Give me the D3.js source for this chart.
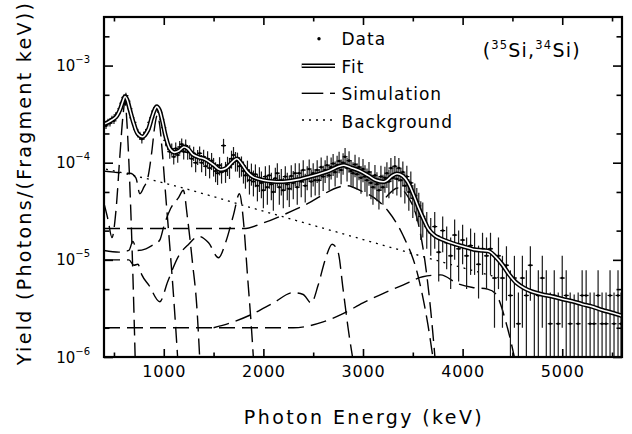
<!DOCTYPE html>
<html>
<head>
<meta charset="utf-8">
<script src="https://cdn.jsdelivr.net/npm/d3@7"></script>
<style>
  body { margin: 0; background: #fff; }
  text { font-family: "DejaVu Sans", sans-serif; fill: #000; }
</style>
</head>
<body>
<svg id="chart" width="632" height="434"></svg>
<script>
// tick values
const xTicksMajor = [1000, 2000, 3000, 4000, 5000];
const xTicksMinor = [500, 1500, 2500, 3500, 4500, 5500];
const yDecades = [1e-6, 1e-5, 1e-4, 1e-3];
const yMinor = [2e-6, 5e-6, 2e-5, 5e-5, 2e-4, 5e-4, 2e-3];
const yExp = ["-6", "-5", "-4", "-3"];

// measured spectrum: bin centre (keV), yield, error
const dataE = [420,440,460,480,500,520,540,560,580,600,620,640,660,680,700,720,740,760,780,800,
  820,840,860,880,900,920,940,960,980,1000,1020,1040,1060,1080,1100,1120,1140,1160,1180,1200,
  1220,1240,1260,1280,1300,1320,1340,1360,1380,1400,1420,1440,1460,1480,1500,1520,1540,1560,1580,1600,
  1620,1640,1660,1680,1700,1720,1740,1760,1780,1800,1820,1840,1860,1880,1900,1920,1940,1960,1980,2000,
  2020,2040,2060,2080,2100,2120,2140,2160,2180,2200,2220,2240,2260,2280,2300,2320,2340,2360,2380,2400,
  2420,2440,2460,2480,2500,2520,2540,2560,2580,2600,2620,2640,2660,2680,2700,2720,2740,2760,2780,2800,
  2820,2840,2860,2880,2900,2920,2940,2960,2980,3000,3020,3040,3060,3080,3100,3120,3140,3160,3180,3200,
  3220,3240,3260,3280,3300,3320,3340,3360,3380,3400,3420,3440,3460,3480,3500,3520,3540,3560,3580,3600,
  3640,3680,3720,3760,3800,3840,3880,3920,3960,4000,4040,4080,4120,4160,4200,4240,4280,4320,4360,4400,
  4440,4480,4520,4560,4600,4640,4680,4720,4760,4800,4840,4880,4920,4960,5000,5040,5080,5120,5160,5200,
  5240,5280,5320,5360,5400,5440,5480,5520,5560,5590];
const dataY = [2.4e-4,2.65e-4,2.55e-4,2.85e-4,2.7e-4,3.1e-4,3.2e-4,3.6e-4,4.1e-4,4.7e-4,4.9e-4,4.3e-4,3.6e-4,2.9e-4,2.6e-4,2.2e-4,2.0e-4,1.9e-4,1.75e-4,1.9e-4,
  2.05e-4,2.2e-4,2.6e-4,2.9e-4,3.4e-4,3.7e-4,3.6e-4,3.3e-4,2.8e-4,2.3e-4,1.7e-4,1.55e-4,1.3e-4,1.38e-4,1.15e-4,1.4e-4,1.2e-4,1.45e-4,1.55e-4,1.3e-4,
  1.5e-4,1.28e-4,1.3e-4,1.1e-4,1.25e-4,1.0e-4,1.15e-4,1.25e-4,1.0e-4,1.15e-4,9.2e-5,1.1e-4,8.8e-5,1.05e-4,9.2e-5,8.2e-5,7.8e-5,9.4e-5,8.0e-5,1.5e-4,
  8.2e-5,9.4e-5,9.0e-5,1.1e-4,1.2e-4,1.05e-4,1.04e-4,9.2e-5,9.4e-5,8.2e-5,7.4e-5,8.4e-5,6.6e-5,7.8e-5,6.4e-5,7.6e-5,5.8e-5,7.0e-5,6.2e-5,5.2e-5,
  7.2e-5,5.6e-5,7.4e-5,6.0e-5,5.0e-5,6.9e-5,7.8e-5,5.6e-5,6.6e-5,5.2e-5,7.2e-5,6.0e-5,5.4e-5,7.3e-5,6.2e-5,7.8e-5,5.6e-5,7.8e-5,6.4e-5,8.4e-5,
  5.8e-5,7.2e-5,8.6e-5,6.4e-5,7.8e-5,6.6e-5,8.4e-5,6.6e-5,9.0e-5,7.2e-5,8.4e-5,9.4e-5,7.4e-5,9.0e-5,9.8e-5,8.0e-5,9.4e-5,1.04e-4,8.4e-5,1.0e-4,
  1.15e-4,8.8e-5,1.05e-4,8.2e-5,7.8e-5,9.6e-5,7.6e-5,9.0e-5,7.0e-5,8.6e-5,7.2e-5,6.6e-5,8.0e-5,6.2e-5,5.6e-5,7.4e-5,6.0e-5,5.2e-5,7.2e-5,5.6e-5,
  7.0e-5,7.8e-5,6.4e-5,8.8e-5,7.0e-5,9.2e-5,6.8e-5,8.8e-5,6.6e-5,8.0e-5,5.8e-5,7.2e-5,5.0e-5,6.2e-5,4.3e-5,4.6e-5,4.0e-5,3.6e-5,2.8e-5,2.8e-5,
  2.2e-5,1.9e-5,2.2e-5,1.2e-5,2.0e-5,1.5e-5,1.1e-5,1.8e-5,1.3e-5,1.6e-5,1.1e-5,1.4e-5,1.3e-5,9e-6,1.3e-5,1.1e-5,1.3e-5,6.5e-6,1.1e-5,6.5e-6,
  8.8e-6,4.3e-6,6.5e-6,2.2e-6,6.5e-6,4.3e-6,8.8e-6,0,4.3e-6,6.5e-6,4.3e-6,2.2e-6,4.3e-6,2.2e-6,6.5e-6,4.3e-6,2.2e-6,0,2.2e-6,4.3e-6,
  4.3e-6,2.2e-6,2.2e-6,4.3e-6,2.2e-6,2.2e-6,4.3e-6,2.2e-6,4.3e-6,2.2e-6];
const dataErr = [1.8e-5,1.9e-5,1.9e-5,2.0e-5,2.0e-5,2.2e-5,2.3e-5,2.6e-5,3.0e-5,3.3e-5,3.4e-5,3.1e-5,2.7e-5,2.3e-5,2.1e-5,1.9e-5,1.8e-5,1.8e-5,1.7e-5,1.8e-5,
  1.8e-5,1.9e-5,2.1e-5,2.2e-5,2.4e-5,2.5e-5,2.5e-5,2.4e-5,2.2e-5,2.4e-5,2.2e-5,2.1e-5,2.0e-5,2.0e-5,1.9e-5,2.1e-5,2.0e-5,2.2e-5,2.3e-5,2.2e-5,
  2.3e-5,2.1e-5,2.1e-5,2.0e-5,2.1e-5,2.0e-5,2.0e-5,2.2e-5,2.0e-5,2.1e-5,1.9e-5,2.1e-5,1.9e-5,2.1e-5,2.0e-5,1.9e-5,1.9e-5,2.0e-5,1.9e-5,2.6e-5,
  2.0e-5,2.1e-5,2.2e-5,2.3e-5,2.5e-5,2.4e-5,2.3e-5,2.2e-5,2.2e-5,2.1e-5,2.0e-5,2.1e-5,1.9e-5,2.0e-5,1.9e-5,2.0e-5,1.8e-5,2.0e-5,1.9e-5,1.8e-5,
  2.0e-5,1.9e-5,2.0e-5,1.9e-5,1.8e-5,2.0e-5,2.1e-5,1.9e-5,2.0e-5,1.8e-5,2.0e-5,1.9e-5,1.9e-5,2.1e-5,2.0e-5,2.1e-5,1.9e-5,2.1e-5,2.0e-5,2.2e-5,
  1.9e-5,2.0e-5,2.2e-5,2.0e-5,2.1e-5,2.0e-5,2.2e-5,2.0e-5,2.3e-5,2.1e-5,2.2e-5,2.4e-5,2.2e-5,2.3e-5,2.5e-5,2.3e-5,2.4e-5,2.6e-5,2.4e-5,2.5e-5,
  2.7e-5,2.4e-5,2.6e-5,2.4e-5,2.3e-5,2.5e-5,2.3e-5,2.4e-5,2.2e-5,2.3e-5,2.2e-5,2.1e-5,2.2e-5,2.0e-5,1.9e-5,2.1e-5,2.0e-5,1.9e-5,2.1e-5,1.9e-5,
  2.1e-5,2.3e-5,2.1e-5,2.4e-5,2.2e-5,2.5e-5,2.2e-5,2.4e-5,2.2e-5,2.3e-5,2.0e-5,2.1e-5,1.8e-5,1.9e-5,1.6e-5,1.5e-5,1.5e-5,1.3e-5,1.2e-5,1.1e-5,
  9e-6,8e-6,9e-6,6e-6,8e-6,7e-6,6e-6,8e-6,7e-6,7e-6,6e-6,7e-6,6e-6,5e-6,6e-6,6e-6,6e-6,4.5e-6,6e-6,4.5e-6,
  5e-6,3.5e-6,4.5e-6,2.4e-6,4.5e-6,3.5e-6,5e-6,4.4e-6,3.5e-6,4.5e-6,3.5e-6,2.4e-6,3.5e-6,2.4e-6,4.5e-6,3.5e-6,2.4e-6,4.4e-6,2.4e-6,3.5e-6,
  3.5e-6,2.4e-6,2.4e-6,3.5e-6,2.4e-6,2.4e-6,3.5e-6,2.4e-6,3.5e-6,2.4e-6];

// total fit
const fitCurve = [[400,2.5e-4],[440,2.6e-4],[480,2.75e-4],[520,2.95e-4],[560,3.5e-4],[590,4.3e-4],[611,4.8e-4],[630,4.5e-4],
  [660,3.5e-4],[700,2.5e-4],[740,1.98e-4],[790,1.85e-4],[840,2.15e-4],[880,2.9e-4],[910,3.55e-4],[930,3.78e-4],[955,3.5e-4],
  [985,2.7e-4],[1020,1.85e-4],[1060,1.4e-4],[1100,1.28e-4],[1150,1.32e-4],[1200,1.45e-4],[1240,1.4e-4],[1290,1.22e-4],
  [1350,1.14e-4],[1420,1.08e-4],[1500,9.5e-5],[1560,8.5e-5],[1620,8.7e-5],[1690,1.02e-4],[1735,1.1e-4],[1780,9.8e-5],
  [1840,8e-5],[1900,7.1e-5],[2000,6.6e-5],[2100,6.4e-5],[2225,6.4e-5],[2350,6.7e-5],[2470,7.2e-5],[2640,8.1e-5],
  [2760,9.2e-5],[2810,9.4e-5],[2880,8.9e-5],[2960,8.3e-5],[3050,7.4e-5],[3130,6.6e-5],[3220,6.4e-5],[3290,7.3e-5],
  [3340,7.7e-5],[3400,7.3e-5],[3450,6.3e-5],[3510,4.6e-5],[3560,3.4e-5],[3610,2.6e-5],[3660,2.05e-5],[3720,1.78e-5],
  [3790,1.63e-5],[3900,1.48e-5],[4000,1.38e-5],[4110,1.28e-5],[4200,1.25e-5],[4270,1.22e-5],[4330,1.08e-5],[4400,8.9e-6],
  [4470,7e-6],[4540,5.8e-6],[4620,5.1e-6],[4700,4.7e-6],[4800,4.4e-6],[4900,4.2e-6],[5000,3.95e-6],[5100,3.75e-6],
  [5200,3.5e-6],[5300,3.3e-6],[5400,3.05e-6],[5500,2.85e-6],[5600,2.65e-6]];

// background
const background = [[420,8.6e-5],[1000,6.2e-5],[2000,3.17e-5],[3000,1.62e-5],[4000,8.3e-6],[4400,6.4e-6]];

// simulated line responses
const sim611 = [[400,3.8e-5],[440,2.6e-5],[480,1.7e-5],[520,3.2e-5],[560,1.2e-4],[590,3.0e-4],[611,4.3e-4],[630,2.6e-4],
  [650,1.0e-4],[670,3.0e-5],[690,7e-6],[715,8e-7]];
const sim930 = [[400,8.2e-5],[500,8e-5],[600,7.8e-5],[660,7.8e-5],[720,7e-5],[760,4.8e-5],[800,5.6e-5],[840,7e-5],
  [880,1.3e-4],[910,2.4e-4],[935,3.1e-4],[960,2.4e-4],[985,1.3e-4],[1020,4.5e-5],[1060,1.4e-5],[1100,4e-6],[1145,8e-7]];
const sim1200 = [[400,1.25e-5],[550,1.2e-5],[650,1.25e-5],[690,1.55e-5],[730,1.25e-5],[820,1.3e-5],[880,1.4e-5],[960,1.6e-5],
  [1000,2.2e-5],[1070,3.4e-5],[1150,4.4e-5],[1196,5.2e-5],[1240,2.6e-5],[1290,9e-6],[1330,3.5e-6],[1365,8e-7]];
const sim1760 = [[400,1.0e-5],[550,1.0e-5],[650,1.0e-5],[700,8.8e-6],[740,9e-6],[780,7e-6],[850,5.5e-6],[960,3.7e-6],
  [1040,6e-6],[1150,1.1e-5],[1250,1.45e-5],[1350,1.75e-5],[1450,1.5e-5],[1550,1.05e-5],[1620,1.5e-5],[1700,2.9e-5],
  [1760,4.8e-5],[1800,2.5e-5],[1840,7e-6],[1880,2e-6],[1905,8e-7]];
const sim2700 = [[1500,2e-6],[1700,2.3e-6],[1900,2.8e-6],[2100,3.6e-6],[2300,4.6e-6],[2400,4.4e-6],[2480,3.6e-6],
  [2550,5.5e-6],[2620,1e-5],[2690,1.45e-5],[2750,1.2e-5],[2800,5e-6],[2850,2e-6],[2910,8e-7]];
const sim3000 = [[400,2.1e-5],[1000,2.1e-5],[1800,2.1e-5],[2000,2.4e-5],[2400,3.6e-5],[2840,5.8e-5],[3000,5e-5],[3120,4.3e-5],
  [3250,3.2e-5],[3400,1.8e-5],[3550,7e-6],[3650,2.2e-6],[3715,8e-7]];
const sim3350 = [[3230,4.4e-5],[3350,5.5e-5],[3450,4.5e-5],[3550,2.5e-5],[3620,1e-5],[3680,3e-6],[3730,8e-7]];
const sim4300 = [[400,2e-6],[1500,2e-6],[2300,2e-6],[2600,2.3e-6],[2800,2.8e-6],[3000,3.6e-6],[3200,4.5e-6],[3400,5.5e-6],
  [3600,6.7e-6],[3780,7e-6],[3950,5.7e-6],[4100,5.2e-6],[4250,5e-6],[4330,4.5e-6],[4450,2e-6],[4540,8e-7]];
const simComponents = [sim611, sim930, sim1200, sim1760, sim2700, sim3000, sim3350, sim4300];

const svg = d3.select("#chart");
const mLeft = 104, mRight = 622, mTop = 17, mBottom = 357;
const x = d3.scaleLinear().domain([400, 5600]).range([mLeft, mRight]);
const y = d3.scaleLog().domain([1e-6, Math.pow(10, -2.5)]).range([mBottom, mTop]);

svg.append("clipPath").attr("id", "plotclip")
  .append("rect").attr("x", mLeft).attr("y", mTop).attr("width", mRight - mLeft).attr("height", mBottom - mTop);
const plot = svg.append("g").attr("clip-path", "url(#plotclip)");

const line = d3.line()
  .x(function(d) { return x(d[0]); })
  .y(function(d) { return y(d[1]); })
  .curve(d3.curveMonotoneX);
const smooth = d3.line()
  .x(function(d) { return x(d[0]); })
  .y(function(d) { return y(d[1]); })
  .curve(d3.curveCatmullRom.alpha(0.5));

// simulation
plot.selectAll(".sim").data(simComponents).enter().append("path")
  .attr("class", "sim")
  .attr("d", line)
  .attr("fill", "none").attr("stroke", "#000").attr("stroke-width", 1.4)
  .attr("stroke-dasharray", "16,7");

// background
plot.append("path").attr("d", line(background))
  .attr("fill", "none").attr("stroke", "#000").attr("stroke-width", 1.3)
  .attr("stroke-dasharray", "2,5");

// data with error bars
const pts = plot.selectAll(".pt").data(dataE).enter().append("g").attr("class", "pt");
pts.append("line")
  .attr("x1", function(d) { return x(d); }).attr("x2", function(d) { return x(d); })
  .attr("y1", function(d, i) { return y(Math.max(dataY[i] - dataErr[i], 1e-7)); })
  .attr("y2", function(d, i) { return y(dataY[i] + dataErr[i]); })
  .attr("stroke", "#1a1a1a").attr("stroke-width", 1.2);
pts.each(function(d, i) {
  if (dataY[i] <= 0) return;
  const g = d3.select(this);
  g.append("line")
    .attr("x1", x(d) - 2.5).attr("x2", x(d) + 2.5)
    .attr("y1", y(dataY[i])).attr("y2", y(dataY[i]))
    .attr("stroke", "#000").attr("stroke-width", 1.2);
  g.append("circle").attr("cx", x(d)).attr("cy", y(dataY[i])).attr("r", 1.3).attr("fill", "#000");
});

// fit (double line)
plot.append("path").attr("d", smooth(fitCurve))
  .attr("fill", "none").attr("stroke", "#000").attr("stroke-width", 4.6);
plot.append("path").attr("d", smooth(fitCurve))
  .attr("fill", "none").attr("stroke", "#fff").attr("stroke-width", 1.6);

// axes (ticks pointing inward)
function styleAxis(g) {
  g.select(".domain").remove();
  g.selectAll(".tick line").attr("stroke", "#000").attr("stroke-width", 1.6);
}
svg.append("g").attr("transform", "translate(0," + mBottom + ")")
  .call(d3.axisBottom(x).tickValues(xTicksMinor).tickSize(-4.5).tickFormat(""))
  .call(styleAxis);
const xb = svg.append("g").attr("transform", "translate(0," + mBottom + ")")
  .call(d3.axisBottom(x).tickValues(xTicksMajor).tickSize(-8).tickPadding(9).tickFormat(d3.format("d")))
  .call(styleAxis);
xb.selectAll(".tick text").attr("font-size", 16).attr("letter-spacing", 0.8)
  .style("font-family", "'DejaVu Sans', sans-serif").attr("fill", "#000");
svg.append("g").attr("transform", "translate(0," + mTop + ")")
  .call(d3.axisTop(x).tickValues(xTicksMinor).tickSize(-4.5).tickFormat(""))
  .call(styleAxis);
svg.append("g").attr("transform", "translate(0," + mTop + ")")
  .call(d3.axisTop(x).tickValues(xTicksMajor).tickSize(-8).tickFormat(""))
  .call(styleAxis);
svg.append("g").attr("transform", "translate(" + mLeft + ",0)")
  .call(d3.axisLeft(y).tickValues(yMinor).tickSize(-5.5).tickFormat(""))
  .call(styleAxis);
svg.append("g").attr("transform", "translate(" + mLeft + ",0)")
  .call(d3.axisLeft(y).tickValues(yDecades).tickSize(-9).tickFormat(""))
  .call(styleAxis);
svg.append("g").attr("transform", "translate(" + mRight + ",0)")
  .call(d3.axisRight(y).tickValues(yMinor).tickSize(-5.5).tickFormat(""))
  .call(styleAxis);
svg.append("g").attr("transform", "translate(" + mRight + ",0)")
  .call(d3.axisRight(y).tickValues(yDecades).tickSize(-9).tickFormat(""))
  .call(styleAxis);

// y tick labels 10^n
yDecades.forEach(function(d, i) {
  const t = svg.append("text").attr("x", 90).attr("y", y(d) + 5.5).attr("text-anchor", "end");
  t.append("tspan").attr("font-size", 15).text("10");
  t.append("tspan").attr("font-size", 10).attr("dy", -8).text(yExp[i].replace("-", "\u2212"));
});

// frame
svg.append("rect").attr("x", mLeft).attr("y", mTop).attr("width", mRight - mLeft).attr("height", mBottom - mTop)
  .attr("fill", "none").attr("stroke", "#000").attr("stroke-width", 2.2);

// axis titles
svg.append("text").attr("x", 364).attr("y", 424).attr("text-anchor", "middle")
  .attr("font-size", 19).attr("letter-spacing", 2.4).text("Photon Energy (keV)");
svg.append("text").attr("transform", "translate(31,183) rotate(-90)").attr("text-anchor", "middle")
  .attr("font-size", 19).attr("letter-spacing", 2.3).text("Yield (Photons/(Fragment keV))");

// legend
const lg = svg.append("g");
lg.append("circle").attr("cx", 319).attr("cy", 38.7).attr("r", 1.7).attr("fill", "#000");
lg.append("line").attr("x1", 301.7).attr("x2", 335).attr("y1", 65.7).attr("y2", 65.7)
  .attr("stroke", "#000").attr("stroke-width", 4.6);
lg.append("line").attr("x1", 301.7).attr("x2", 335).attr("y1", 65.7).attr("y2", 65.7)
  .attr("stroke", "#fff").attr("stroke-width", 1.6);
lg.append("line").attr("x1", 301.7).attr("x2", 323.3).attr("y1", 93.3).attr("y2", 93.3)
  .attr("stroke", "#000").attr("stroke-width", 1.4);
lg.append("line").attr("x1", 330).attr("x2", 335).attr("y1", 93.3).attr("y2", 93.3)
  .attr("stroke", "#000").attr("stroke-width", 1.4);
lg.append("line").attr("x1", 302).attr("x2", 333).attr("y1", 120).attr("y2", 120)
  .attr("stroke", "#000").attr("stroke-width", 1.3).attr("stroke-dasharray", "2,5");
const legendLabels = ["Data", "Fit", "Simulation", "Background"];
lg.selectAll(".lt").data(legendLabels).enter().append("text")
  .attr("x", 341.5).attr("y", function(d, i) { return 45 + i * 27.5; })
  .attr("font-size", 17).attr("letter-spacing", 1).text(function(d) { return d; });

// reaction label
const rl = svg.append("text").attr("x", 482.7).attr("y", 56.7).attr("font-size", 19).attr("letter-spacing", 1.2);
rl.append("tspan").text("(");
rl.append("tspan").attr("font-size", 11.5).attr("dy", -8).text("35");
rl.append("tspan").attr("dy", 8).text("Si,");
rl.append("tspan").attr("font-size", 11.5).attr("dy", -8).text("34");
rl.append("tspan").attr("dy", 8).text("Si)");
</script>
</body>
</html>
